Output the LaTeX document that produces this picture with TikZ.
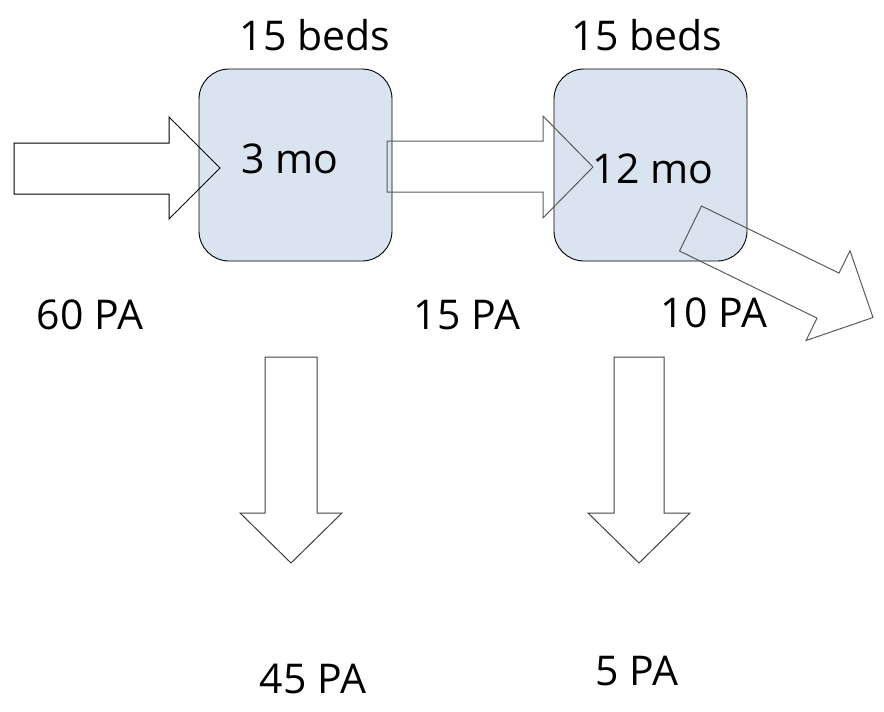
\documentclass[tikz,border=0pt]{standalone}
\usepackage{fontspec}
\setmainfont{Open Sans}
\definecolor{boxfill}{HTML}{DAE3F0}
\definecolor{arrgray}{HTML}{5A5A5A}
\definecolor{arrdark}{HTML}{404040}
\begin{document}
\begin{tikzpicture}[x=1pt,y=-1pt,
  stage/.style={draw=black, line width=0.9pt, fill=boxfill, rounded corners=30pt,
    minimum width=193pt, minimum height=192pt, inner sep=0pt},
  lbl/.style={anchor=base, inner sep=0pt, font=\fontsize{41}{48}\selectfont},
  blockarrow/.style={line width=1pt, line join=miter}]
\useasboundingbox (0,0) rectangle (884,712);
% stage boxes
\node[stage] (b1) at (295.5,165) {};
\node[stage] (b2) at (650.5,165) {};
% texts
\node[lbl] (beds1) at (315,50) {15 beds};
\node[lbl] (beds2) at (647,50) {15 beds};
\node[lbl] (m1) at (290,173) {3 mo};
\node[lbl] (m2) at (653,183) {12 mo};
\node[lbl] (pa60) at (90,329) {60 PA};
\node[lbl] (pa15) at (467,329) {15 PA};
\node[lbl] (pa10) at (714,327) {10 PA};
\node[lbl] (pa45) at (313,693) {45 PA};
\node[lbl] (pa5) at (637,685) {5 PA};
% block arrows
\draw[blockarrow, draw=black] (14,143) -- (169,143) -- (169,117) -- (220,168) -- (169,219) -- (169,194) -- (14,194) -- cycle;
\draw[blockarrow, draw=arrgray] (387,141) -- (543,141) -- (543,116) -- (593,167) -- (543,218) -- (543,192) -- (387,192) -- cycle;
\draw[blockarrow, draw=arrgray] (701.5,206) -- (839,273.1) -- (850,250.7) -- (873,317.5) -- (806.1,340.5) -- (817,318.1) -- (679.5,251) -- cycle;
\draw[blockarrow, draw=arrdark] (265,357) -- (317,357) -- (317,513) -- (342,513) -- (291,563) -- (240,513) -- (265,513) -- cycle;
\draw[blockarrow, draw=arrdark] (614,357) -- (664,357) -- (664,513) -- (690,513) -- (639,563) -- (588,513) -- (614,513) -- cycle;
\end{tikzpicture}
\end{document}
